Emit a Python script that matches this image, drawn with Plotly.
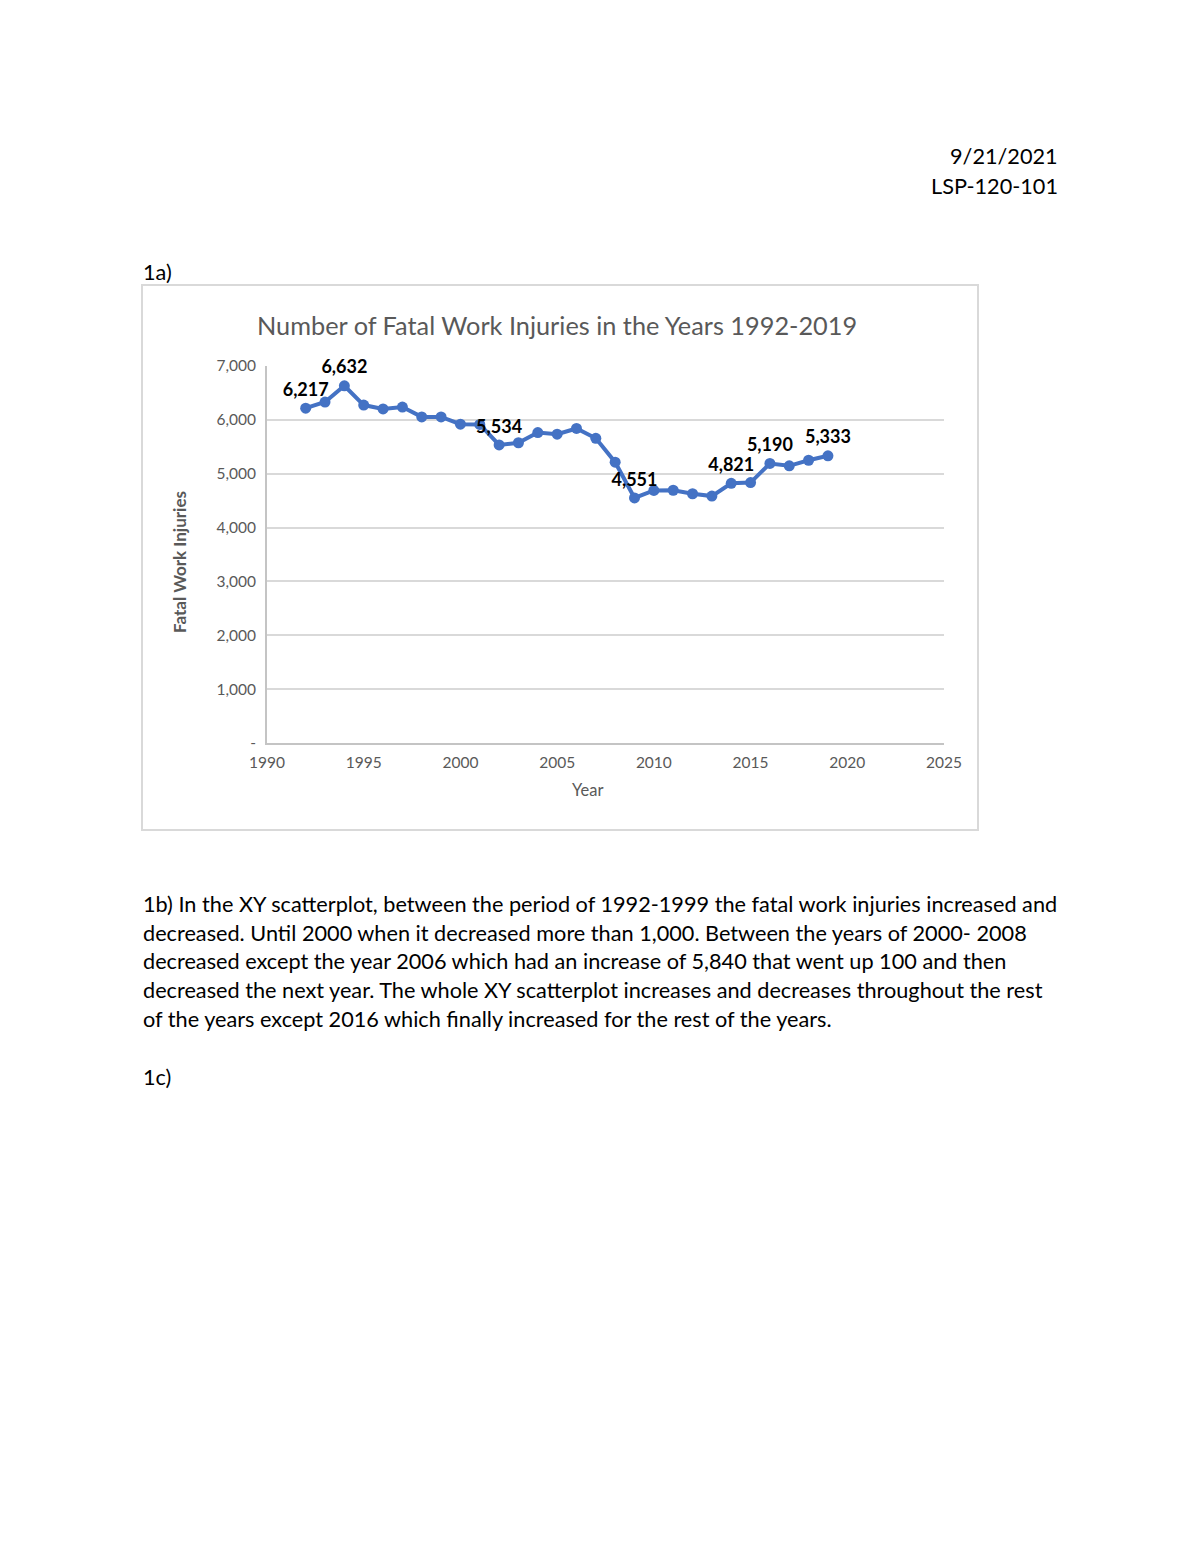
import plotly.graph_objects as go

W, H = 1200, 1553
OFF = 8  # page body margin

years = list(range(1992, 2020))
injuries = [6217, 6331, 6632, 6275, 6202, 6238, 6055, 6054, 5920, 5915,
            5534, 5575, 5764, 5734, 5840, 5657, 5214, 4551, 4690, 4693,
            4628, 4585, 4821, 4836, 5190, 5147, 5250, 5333]
labeled_years = [1992, 1994, 2002, 2009, 2014, 2016, 2019]

y_tickvals = [0, 1000, 2000, 3000, 4000, 5000, 6000, 7000]
y_ticktext = ["-", "1,000", "2,000", "3,000", "4,000", "5,000", "6,000", "7,000"]
x_tickvals = [1990, 1995, 2000, 2005, 2010, 2015, 2020, 2025]

paragraph = [
    "1b) In the XY scatterplot, between the period of 1992-1999 the fatal work injuries increased and",
    "decreased. Until 2000 when it decreased more than 1,000. Between the years of 2000- 2008",
    "decreased except the year 2006 which had an increase of 5,840 that went up 100 and then",
    "decreased the next year. The whole XY scatterplot increases and decreases throughout the rest",
    "of the years except 2016 which finally increased for the rest of the years.",
]

DOC_FONT = "Lato, Open Sans, sans-serif"
BLUE = "#4472C4"
GRAY = "#595959"
GRID = "#d9d9d9"
AXIS = "#c4c4c4"

def px(x):
    return (x - OFF) / W

def py(y):
    return 1 - (y - OFF) / H

labels = [f"{v:,}" if yr in labeled_years else "" for yr, v in zip(years, injuries)]

fig = go.Figure()
fig.add_trace(go.Scatter(
    x=years, y=injuries, mode="lines+markers+text",
    line=dict(color=BLUE, width=4),
    marker=dict(color=BLUE, size=11),
    text=labels, textposition="top center",
    textfont=dict(family=DOC_FONT, size=18, color="#000000", weight="bold"),
    cliponaxis=False, showlegend=False,
))

fig.update_layout(
    template="none",
    width=W, height=H,
    margin=dict(l=0, r=0, t=0, b=0, pad=0, autoexpand=False),
    paper_bgcolor="white", plot_bgcolor="white",
    font=dict(family=DOC_FONT, color=GRAY),
    xaxis=dict(
        domain=[px(267), px(944)], range=[1990, 2025],
        tickvals=x_tickvals, showgrid=False, zeroline=False,
        showline=True, linecolor=AXIS, linewidth=2,
        ticks="", tickfont=dict(size=15.5, color=GRAY),
        ticklabelstandoff=4,
        anchor="y", automargin=False,
    ),
    yaxis=dict(
        domain=[py(743), py(366)], range=[0, 7000],
        tickvals=y_tickvals, ticktext=y_ticktext,
        showgrid=True, gridcolor=GRID, gridwidth=2,
        zeroline=False, showline=True, linecolor=AXIS, linewidth=2,
        ticks="", tickfont=dict(size=15.5, color=GRAY),
        ticklabelstandoff=6,
        anchor="x", automargin=False,
    ),
)

# chart border
fig.add_shape(type="rect", xref="paper", yref="paper",
              x0=px(142), x1=px(978), y0=py(285), y1=py(830),
              line=dict(color=GRID, width=2), fillcolor="rgba(0,0,0,0)", layer="below")

ann = []
ann.append(dict(text="Number of Fatal Work Injuries in the Years 1992-2019",
                x=px(557), y=py(325), xanchor="center", yanchor="middle",
                font=dict(size=25.3, color=GRAY, family=DOC_FONT)))
ann.append(dict(text="Year", x=px(587), y=py(790), xanchor="center", yanchor="middle",
                font=dict(size=16.5, color=GRAY, family=DOC_FONT)))
ann.append(dict(text="<b>Fatal Work Injuries</b>", x=px(180), y=py(562), textangle=-90,
                xanchor="center", yanchor="middle",
                font=dict(size=17, color=GRAY, family=DOC_FONT)))

DOC = dict(size=21.7, color="#000", family=DOC_FONT)
ann.append(dict(text="9/21/2021", x=px(1060), y=py(156), xanchor="right", yanchor="middle", font=DOC))
ann.append(dict(text="LSP-120-101", x=px(1060), y=py(186), xanchor="right", yanchor="middle", font=DOC))
ann.append(dict(text="1a)", x=px(141), y=py(272), xanchor="left", yanchor="middle", font=DOC))
line_y = [904, 933, 961, 990, 1019]
for t, yy in zip(paragraph, line_y):
    ann.append(dict(text=t, x=px(141), y=py(yy), xanchor="left", yanchor="middle", font=DOC))
ann.append(dict(text="1c)", x=px(141), y=py(1077), xanchor="left", yanchor="middle", font=DOC))

for a in ann:
    a.update(xref="paper", yref="paper", showarrow=False)
fig.update_layout(annotations=ann)

fig.write_html("out.html")
